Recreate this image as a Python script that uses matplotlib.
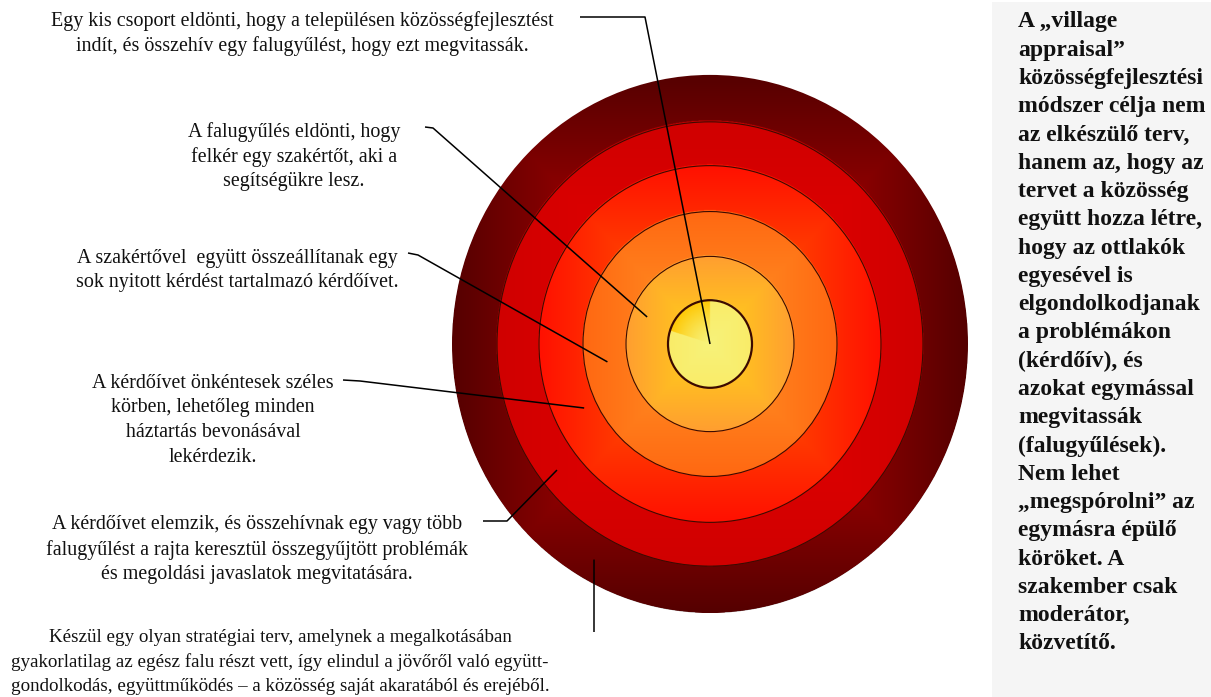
import numpy as np
import matplotlib.pyplot as plt
from matplotlib.patches import Ellipse, Rectangle

plt.rcParams['font.family'] = ['Liberation Serif', 'DejaVu Serif']

# Steps of the method, from the centre of the circles outwards
step_texts = [
    ["Egy kis csoport eldönti, hogy a településen közösségfejlesztést",
     "indít, és összehív egy falugyűlést, hogy ezt megvitassák."],
    ["A falugyűlés eldönti, hogy",
     "felkér egy szakértőt, aki a",
     "segítségükre lesz."],
    ["A szakértővel  együtt összeállítanak egy",
     "sok nyitott kérdést tartalmazó kérdőívet."],
    ["A kérdőívet önkéntesek széles",
     "körben, lehetőleg minden",
     "háztartás bevonásával",
     "lekérdezik."],
    ["A kérdőívet elemzik, és összehívnak egy vagy több",
     "falugyűlést a rajta keresztül összegyűjtött problémák",
     "és megoldási javaslatok megvitatására."],
    ["Készül egy olyan stratégiai terv, amelynek a megalkotásában",
     "gyakorlatilag az egész falu részt vett, így elindul a jövőről való együtt-",
     "gondolkodás, együttműködés – a közösség saját akaratából és erejéből."],
]

note_lines = [
    "A „village", "appraisal”", "közösségfejlesztési", "módszer célja nem",
    "az elkészülő terv,", "hanem az, hogy az", "tervet a közösség",
    "együtt hozza létre,", "hogy az ottlakók", "egyesével is",
    "elgondolkodjanak", "a problémákon", "(kérdőív), és",
    "azokat egymással", "megvitassák", "(falugyűlések).", "Nem lehet",
    "„megspórolni” az", "egymásra épülő", "köröket. A", "szakember csak",
    "moderátor,", "közvetítő.",
]

# ---- layout / style ----
W, H = 1211, 697
cx, cy = 710, 344
stretch = 1.043          # circles are a bit taller than wide
ring_r = [42, 84, 127, 171, 213, 258]
ring_center_rgb = [(247, 242, 122), (255, 212, 25), (255, 150, 38),
                   (255, 105, 0), (232, 0, 0), (210, 0, 0)]
ring_edge_rgb = [(250, 236, 104), (255, 158, 48), (255, 104, 18),
                 (255, 16, 0), (208, 0, 0), (85, 0, 0)]
wedge_deg = (90, 163)
wedge_edge_rgb = (255, 198, 0)

text_center = [(302, 21), (294, 132), (237, 258), (213, 383), (257, 525), (280, 637)]
text_size = [14.4, 14.4, 14.4, 14.4, 14.4, 13.7]
line_gap = 24.8
leader_start = [[(580, 17), (645, 17)], [(425, 127), (433, 128)],
                [(408, 253), (418, 255)], [(343, 380), (360, 381)],
                [(483, 521), (507, 521)], [(594, 632)]]
# leader end inside its ring: (radius, angle in degrees)
leader_end = [(0, 0), (68, 157.6), (104, 189.5), (140, 206), (195, 218.3), (237, 240.7)]

fig = plt.figure(figsize=(W / 100, H / 100), dpi=100)
ax = fig.add_axes([0, 0, 1, 1])
ax.set_xlim(0, W)
ax.set_ylim(H, 0)
ax.axis('off')

# ---- gradient disk (rectangular path gradient for each circle) ----
R = ring_r[-1]
ry = R * stretch
xs = np.arange(cx - R, cx + R, 0.5) + 0.25
ys = np.arange(cy - ry, cy + ry, 0.5) + 0.25
X, Y = np.meshgrid(xs, ys)
u = X - cx
v = (cy - Y) / stretch
rho = np.hypot(u, v)
cheb = np.maximum(np.abs(u), np.abs(v))
img = np.zeros(X.shape + (4,))
for i in range(len(ring_r) - 1, -1, -1):
    inside = rho <= ring_r[i] + 0.5
    t = np.clip(cheb / ring_r[i], 0, 1)[..., None]
    c0 = np.array(ring_center_rgb[i]) / 255
    c1 = np.array(ring_edge_rgb[i]) / 255
    col = c0 + (c1 - c0) * t
    img[inside, :3] = col[inside]
    img[inside, 3] = 1

# brighter wedge of the central circle
ang = np.degrees(np.arctan2(v, u)) % 360
wedge = (rho <= ring_r[0]) & (ang >= wedge_deg[0]) & (ang <= wedge_deg[1])
tw = np.clip(rho / ring_r[0], 0, 1)[..., None] ** 1.3
c0 = np.array(ring_center_rgb[0]) / 255
c1 = np.array(wedge_edge_rgb) / 255
wcol = c0 + (c1 - c0) * tw
img[wedge, :3] = wcol[wedge]

im = ax.imshow(img, extent=(cx - R, cx + R, cy + ry, cy - ry),
               origin='upper', interpolation='bilinear', aspect='auto', zorder=1)
clip = Ellipse((cx, cy), 2 * R, 2 * ry, transform=ax.transData)
im.set_clip_path(clip)

for i, r in enumerate(ring_r[:-1]):
    ax.add_patch(Ellipse((cx, cy), 2 * r, 2 * r * stretch, fill=False,
                         edgecolor='#3c0a00', lw=1.6 if i == 0 else 0.8, zorder=2))

# ---- leader lines ----
for start, (lr, la) in zip(leader_start, leader_end):
    ex = cx + lr * np.cos(np.radians(la))
    ey = cy - lr * stretch * np.sin(np.radians(la))
    pts = start + [(ex, ey)]
    ax.plot([p[0] for p in pts], [p[1] for p in pts], color='black', lw=1.1,
            solid_capstyle='butt', zorder=3)

# ---- step texts ----
for (tx, ty), size, lines in zip(text_center, text_size, step_texts):
    for k, line in enumerate(lines):
        ax.text(tx, ty + k * line_gap, line, ha='center', va='center',
                fontsize=size, color='#111111', zorder=4)

# ---- note box ----
ax.add_patch(Rectangle((992, 2), W - 992, H - 2, facecolor='#f5f5f5',
                       edgecolor='none', zorder=0))
for k, line in enumerate(note_lines):
    ax.text(1018, 22 + k * 28.27, line, ha='left', va='center',
            fontsize=17.0, fontweight='bold', color='#111111', zorder=4)

fig.savefig('out.png', dpi=100)
